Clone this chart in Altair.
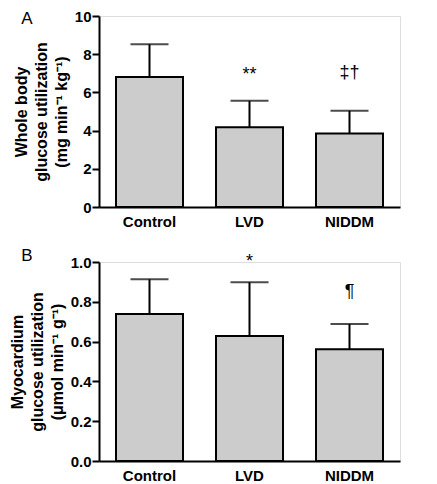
import altair as alt
import pandas as pd

groups = ["Control", "LVD", "NIDDM"]

# Panel A: whole body glucose utilization
a_mean = [6.8, 4.18, 3.85]
a_sd = [1.72, 1.38, 1.19]
a_marks = ["", "**", "‡†"]
a_mark_y = [0, 6.9, 7.0]
a_ticks = [0, 2, 4, 6, 8, 10]

# Panel B: myocardium glucose utilization
b_mean = [0.739, 0.628, 0.561]
b_sd = [0.174, 0.27, 0.127]
b_marks = ["", "*", "¶"]
b_mark_y = [0, 1.0, 0.85]
b_ticks = [0.0, 0.2, 0.4, 0.6, 0.8, 1.0]

FONT = "Liberation Sans"


def panel(mean, sd, marks, mark_y, ticks, fmt, title, letter, letter_y, height):
    df = pd.DataFrame({
        "group": groups,
        "mean": mean,
        "upper": [m + s for m, s in zip(mean, sd)],
        "mark": marks,
        "mark_y": mark_y,
    })
    xaxis = alt.Axis(
        title=None, labelAngle=0, ticks=False, labelPadding=7,
        labelFontSize=15, labelFontWeight="bold", labelFont=FONT,
        labelColor="black", domainColor="black", domainWidth=2,
    )
    xenc = alt.X("group:N", sort=groups,
                 scale=alt.Scale(paddingInner=0.33, paddingOuter=0.17), axis=xaxis)
    yscale = alt.Scale(domain=[ticks[0], ticks[-1]], nice=False)
    yaxis = alt.Axis(
        title=title, values=ticks, tickCount=len(ticks),
        format=fmt, grid=False, tickSize=7, tickWidth=2, tickColor="black",
        domainColor="black", domainWidth=2, labelPadding=1,
        labelOverlap=False, labelFlush=False,
        labelFontSize=15, labelFontWeight="bold", labelFont=FONT, labelColor="black",
        titleFontSize=16, titleFontWeight="bold", titleFont=FONT, titleColor="black",
        titleLineHeight=20, titlePadding=5,
    )
    base = alt.Chart(df)
    err = base.mark_rule(color="black", strokeWidth=2).encode(
        x=xenc, y=alt.Y("mean:Q", scale=yscale, axis=yaxis), y2="upper:Q"
    )
    bars = base.mark_bar(color="#cccccc", stroke="black", strokeWidth=2).encode(
        x=xenc, y=alt.Y("mean:Q", scale=yscale, axis=yaxis)
    )
    caps = base.mark_tick(color="black", size=38, thickness=2).encode(
        x=xenc, y=alt.Y("upper:Q", scale=yscale, axis=yaxis)
    )
    ann = base.mark_text(fontSize=18, font=FONT, color="black", baseline="middle").encode(
        x=xenc, y=alt.Y("mark_y:Q", scale=yscale, axis=yaxis), text="mark:N"
    )
    lab = alt.Chart(pd.DataFrame({"t": [letter]})).mark_text(
        fontSize=17, font=FONT, color="black", baseline="middle", align="center"
    ).encode(x=alt.value(-72), y=alt.value(letter_y), text="t:N")
    return alt.layer(err, bars, caps, ann, lab).properties(width=301, height=height)


pa = panel(a_mean, a_sd, a_marks, a_mark_y, a_ticks, "d",
           ["Whole body", "glucose utilization", "(mg min⁻¹ kg⁻¹)"], "A", 3, 191)
pb = panel(b_mean, b_sd, b_marks, b_mark_y, b_ticks, ".1f",
           ["Myocardium", "glucose utilization", "(μmol min⁻¹ g⁻¹)"], "B", -6, 199)

chart = alt.vconcat(pa, pb, spacing=16).properties(
    padding={"top": 0, "left": 0, "right": 0, "bottom": 0}
).configure_view(stroke=None).configure(background="white")

chart.save("out.html", embed_options={"renderer": "svg", "actions": False})
